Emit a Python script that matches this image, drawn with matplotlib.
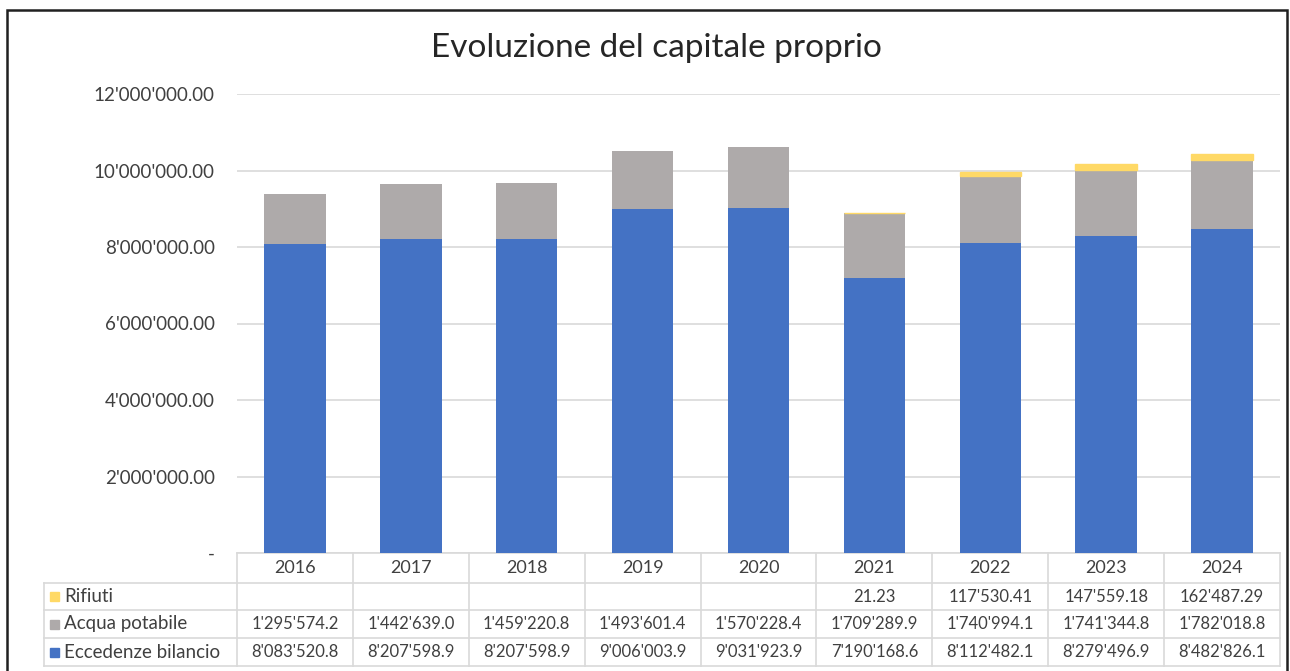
import matplotlib.pyplot as plt
import matplotlib.patches as patches
import numpy as np

years = ["2016", "2017", "2018", "2019", "2020", "2021", "2022", "2023", "2024"]
eccedenze = [8083520.8, 8207598.9, 8207598.9, 9006003.9, 9031923.9, 7190168.6, 8112482.1, 8279496.9, 8482826.1]
acqua = [1295574.2, 1442639.0, 1459220.8, 1493601.4, 1570228.4, 1709289.9, 1740994.1, 1741344.8, 1782018.8]
rifiuti = [None, None, None, None, None, 21.23, 117530.41, 147559.18, 162487.29]
yticks = [0, 2000000, 4000000, 6000000, 8000000, 10000000, 12000000]

c_blue = "#4472C4"
c_gray = "#AEAAAA"
c_yellow = "#FFD966"
c_grid = "#D9D9D9"
c_text = "#404040"

plt.rcParams['font.family'] = ['Lato', 'DejaVu Sans']


def fmt(v, dec):
    if v is None:
        return ""
    s = f"{v:,.{dec}f}"
    return s.replace(",", "'")


W, H = 1290, 671
fig = plt.figure(figsize=(W / 100, H / 100), dpi=100)


def fx(px):
    return px / W


def fy(py):
    return 1 - py / H


ax = fig.add_axes([fx(237), fy(553), fx(1280) - fx(237), fy(94) - fy(553)])

x = np.arange(len(years))
rif = [0 if v is None else v for v in rifiuti]
bw = 0.53
ax.bar(x, eccedenze, bw, color=c_blue, zorder=3)
ax.bar(x, acqua, bw, bottom=eccedenze, color=c_gray, zorder=3)
# thin edge so that even the tiny 2021 value shows as a line, like in Excel
ax.bar(x, rif, bw, bottom=np.array(eccedenze) + np.array(acqua), color=c_yellow,
       edgecolor=[c_yellow if v else "none" for v in rif], lw=1, zorder=3)

ax.set_xlim(-0.5, len(years) - 0.5)
ax.set_ylim(0, 12000000)
ax.set_yticks(yticks)
ax.set_yticklabels(["-" if t == 0 else fmt(t, 2) for t in yticks], fontsize=13.5, color=c_text)
ax.tick_params(axis='y', length=0, pad=16)
ax.set_xticks([])
ax.grid(axis='y', color=c_grid, lw=1.2, zorder=0)
for s in ["top", "right", "left"]:
    ax.spines[s].set_visible(False)
ax.spines["bottom"].set_color(c_grid)
ax.spines["bottom"].set_linewidth(1.2)

fig.text(fx(656), fy(48), "Evoluzione del capitale proprio", ha='center', va='center',
         fontsize=24, color="#262626")

# data table below the axis
col_w = (1280 - 237) / len(years)
row_y = [553, 583, 610, 638, 666]
for yy in row_y[1:]:
    fig.add_artist(plt.Line2D([fx(44), fx(1280)], [fy(yy), fy(yy)], color=c_grid, lw=1.2))
fig.add_artist(plt.Line2D([fx(44), fx(44)], [fy(583), fy(666)], color=c_grid, lw=1.2))
for k in range(len(years) + 1):
    xx = 237 + k * col_w
    fig.add_artist(plt.Line2D([fx(xx), fx(xx)], [fy(553), fy(666)], color=c_grid, lw=1.2))

for k, yr in enumerate(years):
    cx = 237 + (k + 0.5) * col_w
    fig.text(fx(cx), fy(568), yr, ha='center', va='center', fontsize=13, color=c_text)

rows = [("Rifiuti", rifiuti, 2, c_yellow), ("Acqua potabile", acqua, 1, c_gray),
        ("Eccedenze bilancio", eccedenze, 1, c_blue)]
for i, (name, vals, dec, col) in enumerate(rows):
    cy = (row_y[i + 1] + row_y[i + 2]) / 2
    fig.add_artist(patches.Rectangle((fx(50), fy(cy + 4.5)), fx(9), fy(0) - fy(9),
                                     color=col, transform=fig.transFigure))
    fig.text(fx(64), fy(cy), name, ha='left', va='center', fontsize=13.5, color=c_text)
    for k, v in enumerate(vals):
        cx = 237 + (k + 0.5) * col_w
        fig.text(fx(cx), fy(cy), fmt(v, dec), ha='center', va='center', fontsize=12, color=c_text)

# chart frame
fig.add_artist(patches.Rectangle((fx(7), fy(680)), fx(1287) - fx(7), fy(10) - fy(680),
                                 fill=False, edgecolor="#202020", lw=1.8,
                                 transform=fig.transFigure))

fig.savefig("out.png", dpi=100)
